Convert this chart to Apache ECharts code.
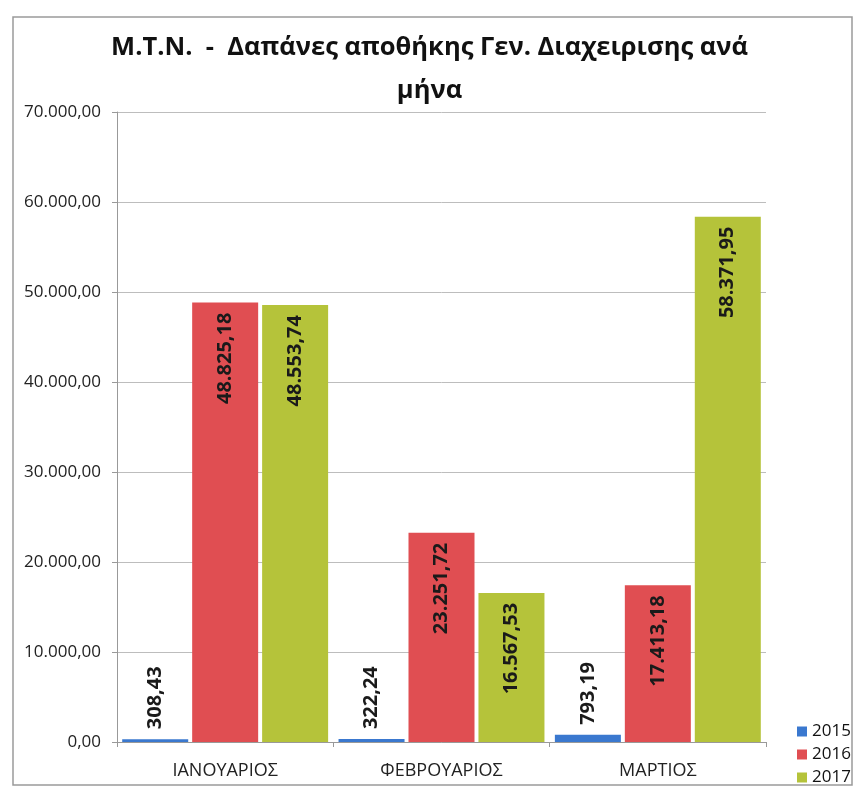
<!DOCTYPE html>
<html lang="el">

<head>
    <meta charset="UTF-8">
    <title>Δαπάνες αποθήκης</title>
    <script src="https://cdn.jsdelivr.net/npm/echarts@6/dist/echarts.min.js"></script>
</head>
<style>
    * {
        padding: 0;
        margin: 0;
    }

    .box {
        width: 859px;
        height: 789px;
        background: #fff;
    }
</style>

<body>
    <div class="box" id="myChart"></div>
    <script>
        // δεδομένα
        const months = ["ΙΑΝΟΥΑΡΙΟΣ", "ΦΕΒΡΟΥΑΡΙΟΣ", "ΜΑΡΤΙΟΣ"];
        const years = ["2015", "2016", "2017"];
        const values2015 = [308.43, 322.24, 793.19];
        const values2016 = [48825.18, 23251.72, 17413.18];
        const values2017 = [48553.74, 16567.53, 58371.95];
        const colors = ["#3a78cf", "#e04e52", "#b5c33a"];

        // 48825.18 -> "48.825,18"
        function fmt(v) {
            let parts = v.toFixed(2).split(".");
            let int = parts[0].replace(/\B(?=(\d{3})+(?!\d))/g, ".");
            return int + "," + parts[1];
        }

        let font = "'Open Sans', 'Noto Sans', sans-serif";

        function makeSeries(name, data, color, small) {
            return {
                name: name,
                type: "bar",
                barWidth: 66,
                barGap: "6%",
                itemStyle: { color: color },
                label: {
                    show: true,
                    rotate: 90,
                    position: small ? "top" : "insideTop",
                    align: small ? "left" : "right",
                    verticalAlign: "middle",
                    distance: 10,
                    fontFamily: font,
                    fontWeight: "bold",
                    fontSize: 20,
                    color: "#1a1a1a",
                    formatter: function (p) { return fmt(p.value); }
                },
                data: data
            };
        }

        let myChart = echarts.init(document.getElementById("myChart"));
        let option = {
            backgroundColor: "#fff",
            animation: false,
            title: {
                text: "M.T.N.  -  Δαπάνες αποθήκης Γεν. Διαχειρισης ανά\nμήνα",
                left: "center",
                top: 21,
                textStyle: {
                    fontFamily: font,
                    fontWeight: "bold",
                    fontSize: 25.5,
                    lineHeight: 43,
                    color: "#111"
                }
            },
            graphic: [{
                type: "rect",
                shape: { x: 13, y: 17, width: 839, height: 768 },
                style: { fill: null, stroke: "#9a9a9a", lineWidth: 1.5 },
                silent: true
            }],
            grid: {
                left: 117,
                right: 93,
                top: 112,
                bottom: 47
            },
            legend: {
                data: years,
                orient: "vertical",
                left: 797,
                top: 722,
                padding: 0,
                itemWidth: 10,
                itemHeight: 10,
                itemGap: 4,
                icon: "rect",
                textStyle: { fontFamily: font, fontSize: 17, lineHeight: 19, color: "#111" }
            },
            xAxis: {
                type: "category",
                data: months,
                axisLine: { lineStyle: { color: "#999" } },
                axisTick: { show: true, length: 5, lineStyle: { color: "#999" } },
                axisLabel: {
                    fontFamily: font,
                    fontSize: 18,
                    color: "#222",
                    margin: 20
                }
            },
            yAxis: {
                type: "value",
                min: 0,
                max: 70000,
                interval: 10000,
                axisLine: { show: true, lineStyle: { color: "#999" } },
                axisTick: { show: true, length: 5, lineStyle: { color: "#999" } },
                splitLine: { lineStyle: { color: "#bdbdbd" } },
                axisLabel: {
                    fontFamily: font,
                    fontSize: 17,
                    color: "#222",
                    margin: 16,
                    formatter: function (v) { return fmt(v); }
                }
            },
            series: [
                makeSeries(years[0], values2015, colors[0], true),
                makeSeries(years[1], values2016, colors[1], false),
                makeSeries(years[2], values2017, colors[2], false)
            ]
        };
        myChart.setOption(option, true);
    </script>

</body>

</html>
